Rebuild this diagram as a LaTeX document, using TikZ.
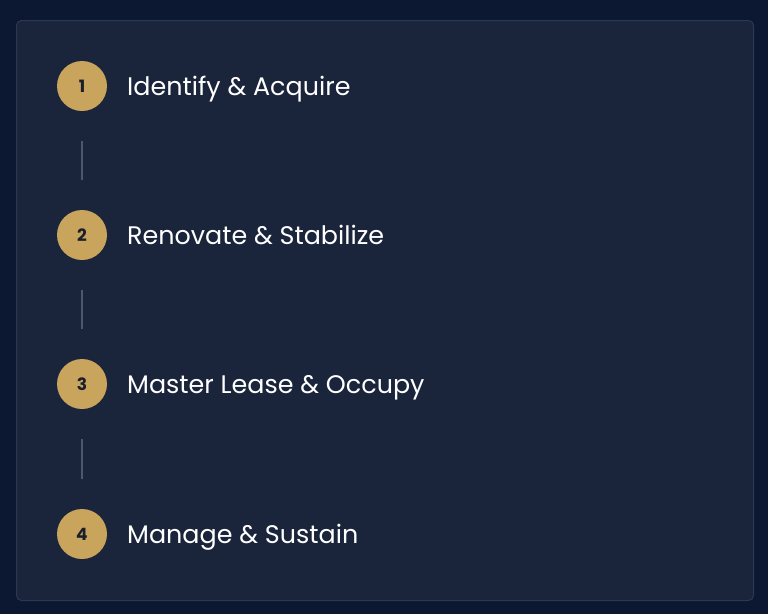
\documentclass[tikz,border=0pt]{standalone}
\usepackage{fontspec}
\setmainfont{Poppins}
\definecolor{outerbg}{HTML}{0C1831}
\definecolor{panelbg}{HTML}{1A243A}
\definecolor{panelborder}{HTML}{2C3852}
\definecolor{gold}{HTML}{C9A45C}
\definecolor{numtext}{HTML}{1A1F2B}
\definecolor{linkgray}{HTML}{4D586C}
\begin{document}
\begin{tikzpicture}[x=1pt,y=-1pt,
  stepcircle/.style={circle,fill=gold,minimum size=50pt,inner sep=0pt,text=numtext,font=\fontsize{17}{17}\selectfont\bfseries},
  steplabel/.style={anchor=base west,text=white,font=\fontsize{25.4}{26}\selectfont,inner sep=0pt},
  link/.style={draw=linkgray,line width=2pt}]
  \fill[outerbg] (0,0) rectangle (768,614);
  \useasboundingbox (0,0) rectangle (768,614);
  \filldraw[fill=panelbg,draw=panelborder,line width=1pt,rounded corners=5pt] (16.5,20.5) rectangle (753.5,600.5);
  \node[stepcircle] (c1) at (82,86) {1};
  \node[stepcircle] (c2) at (82,235) {2};
  \node[stepcircle] (c3) at (82,384) {3};
  \node[stepcircle] (c4) at (82,534) {4};
  \node[steplabel] (t1) at (127,95) {Identify \& Acquire};
  \node[steplabel] (t2) at (127,244) {Renovate \& Stabilize};
  \node[steplabel] (t3) at (127,393) {Master Lease \& Occupy};
  \node[steplabel] (t4) at (127,543) {Manage \& Sustain};
  \coordinate (a1) at (82,141); \coordinate (b1) at (82,180);
  \coordinate (a2) at (82,290); \coordinate (b2) at (82,329);
  \coordinate (a3) at (82,439); \coordinate (b3) at (82,479);
  \draw[link] (a1) -- (b1);
  \draw[link] (a2) -- (b2);
  \draw[link] (a3) -- (b3);
\end{tikzpicture}
\end{document}
